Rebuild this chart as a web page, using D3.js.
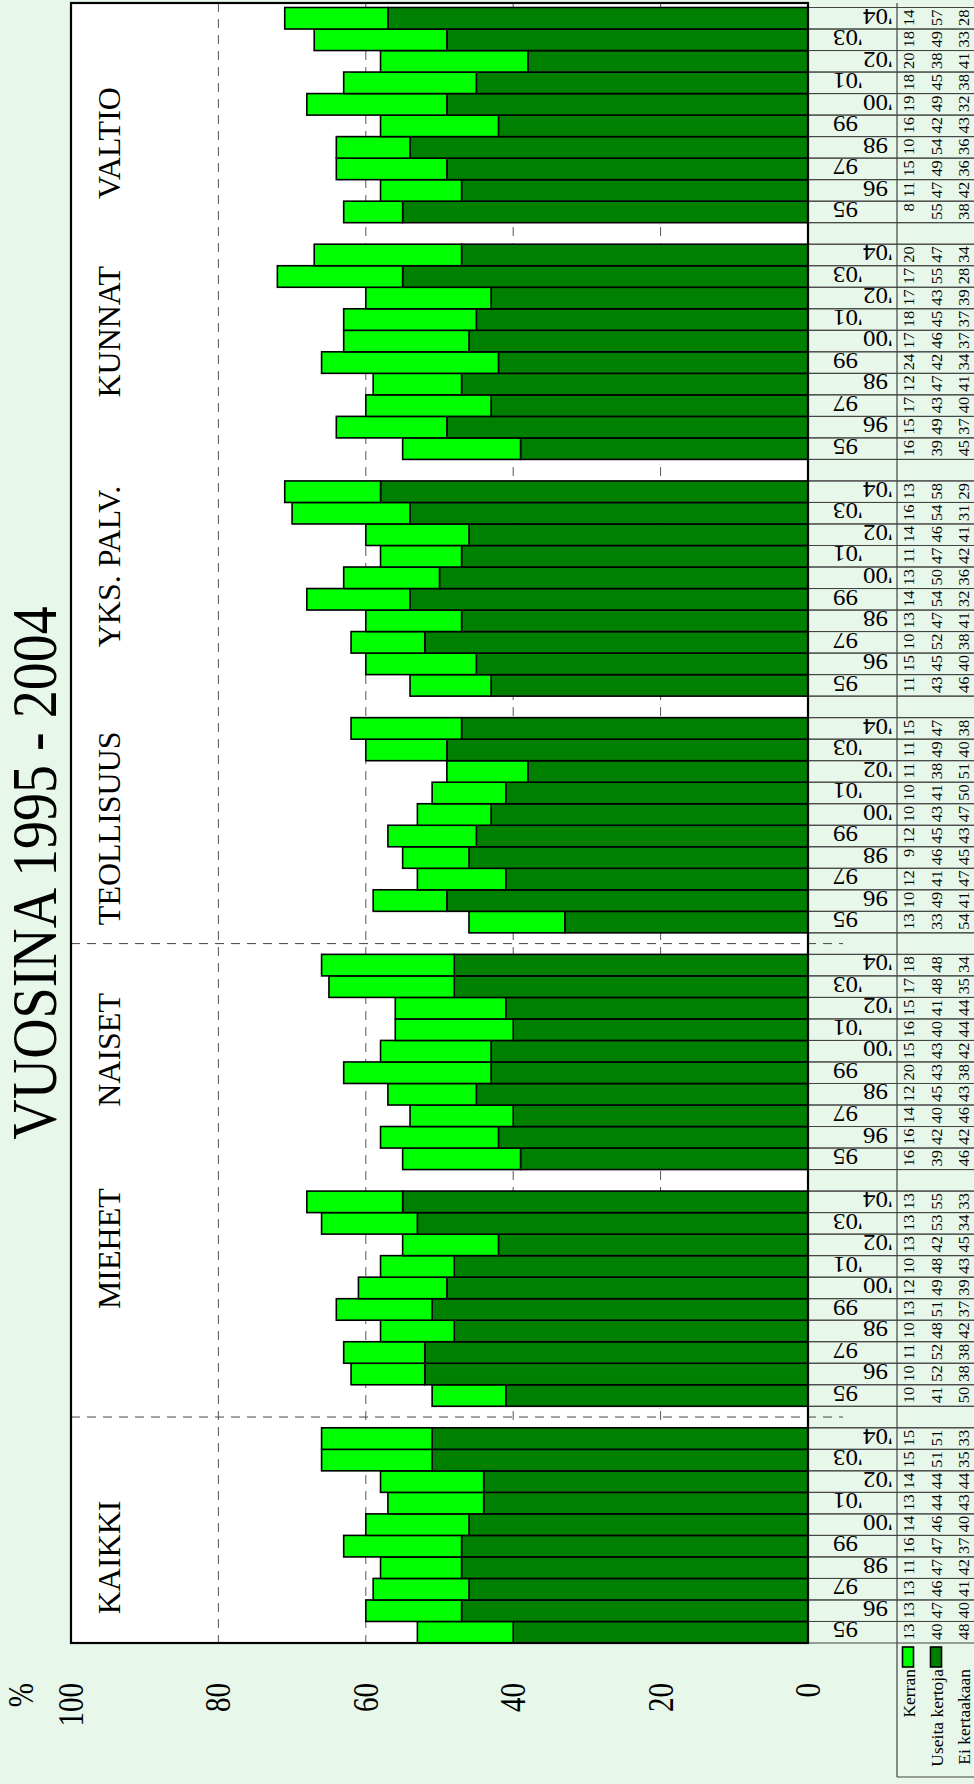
<!DOCTYPE html>
<html><head><meta charset="utf-8">
<script src="https://cdn.jsdelivr.net/npm/d3@7"></script>
<style>html,body{margin:0;padding:0;background:#e7f7ea;} svg{display:block}</style>
</head><body><svg id="c" width="974" height="1784"></svg>
<script>
const groups = ["KAIKKI","MIEHET","NAISET","TEOLLISUUS","YKS. PALV.","KUNNAT","VALTIO"];
const years = ["95","96","97","98","99","'00","'01","'02","'03","'04"];
const seriesNames = ["Kerran","Useita kertoja","Ei kertaakaan"];
const valueTicks = [0,20,40,60,80,100];
const titleText = "VUOSINA 1995 - 2004";
// Kerran (once)
const kerran = [
  [13,13,13,11,16,14,13,14,15,15],
  [10,10,11,10,13,12,10,13,13,13],
  [16,16,14,12,20,15,16,15,17,18],
  [13,10,12,9,12,10,10,11,11,15],
  [11,15,10,13,14,13,11,14,16,13],
  [16,15,17,12,24,17,18,17,17,20],
  [8,11,15,10,16,19,18,20,18,14]
];
// Useita kertoja (several times)
const useita = [
  [40,47,46,47,47,46,44,44,51,51],
  [41,52,52,48,51,49,48,42,53,55],
  [39,42,40,45,43,43,40,41,48,48],
  [33,49,41,46,45,43,41,38,49,47],
  [43,45,52,47,54,50,47,46,54,58],
  [39,49,43,47,42,46,45,43,55,47],
  [55,47,49,54,42,49,45,38,49,57]
];
// Ei kertaakaan (never)
const ei = [
  [48,40,41,42,37,40,43,44,35,33],
  [50,38,38,42,37,39,43,45,34,33],
  [46,42,46,43,38,42,44,44,35,34],
  [54,41,47,45,43,47,50,51,40,38],
  [46,40,38,41,32,36,42,41,31,29],
  [45,37,40,41,34,37,37,39,28,34],
  [38,42,36,36,43,32,38,41,33,28]
];
const separatorAfter = [0,2]; // dashed separators after these groups
// layout: label shift from group centre (px)
const labelShift = [22,-50,-12,3,-22,-20,28];

const FONT = "'Liberation Serif','Times New Roman',serif";
const LIGHT = "#00ff00", DARK = "#008000";
const svg = d3.select("#c");

const PL = 71, PR = 808, PT = 3, PB = 1643;
const xV = d3.scaleLinear().domain([0,100]).range([PR, PL]);

const slots = [];
groups.forEach((g,gi)=>{ if(gi>0) slots.push("gap"+gi); years.forEach((y,yi)=>slots.push(gi+"|"+yi)); });
const yS = d3.scaleBand().domain(slots).range([PB, 7.5]);
const bw = yS.bandwidth();

function rt(sel, x, y, str, size, sy, anchor, rot){
  return sel.append("text")
    .attr("transform", `translate(${x},${y}) rotate(${rot===undefined?-90:rot}) scale(1,${sy})`)
    .attr("text-anchor", anchor).attr("font-family", FONT)
    .attr("font-size", size).attr("fill","#000").text(str);
}

// plot background
svg.append("rect").attr("x",PL).attr("y",PT).attr("width",PR-PL).attr("height",PB-PT).attr("fill","#fff");

// gridlines
svg.append("g").selectAll("line").data(valueTicks.filter(v=>v>0&&v<100)).join("line")
  .attr("x1",d=>xV(d)).attr("x2",d=>xV(d)).attr("y1",PT).attr("y2",PB)
  .attr("stroke","#555").attr("stroke-width",1).attr("stroke-dasharray","9,7");

// table row lines
const tl = svg.append("g");
slots.forEach(k=>{
  [yS(k), yS(k)+bw].forEach(y=>{
    tl.append("line").attr("x1",PR).attr("x2",974).attr("y1",y).attr("y2",y)
      .attr("stroke","#444").attr("stroke-width",1);
  });
});
tl.append("line").attr("x1",897).attr("x2",897).attr("y1",PT).attr("y2",1777).attr("stroke","#444").attr("stroke-width",1.2);
tl.append("line").attr("x1",897).attr("x2",974).attr("y1",1777).attr("y2",1777).attr("stroke","#444").attr("stroke-width",1.2);

// group separators
separatorAfter.forEach(gi=>{
  const y = yS("gap"+(gi+1)) + bw/2;
  svg.append("line").attr("x1",PL).attr("x2",843).attr("y1",y).attr("y2",y)
    .attr("stroke","#444").attr("stroke-width",1).attr("stroke-dasharray","9,7");
});

// bars
const bars = svg.append("g");
groups.forEach((g,gi)=>{
  years.forEach((yr,yi)=>{
    const key = gi+"|"+yi, y = yS(key);
    const u = useita[gi][yi], k = kerran[gi][yi];
    bars.append("rect").attr("x",xV(u)).attr("y",y).attr("width",xV(0)-xV(u)).attr("height",bw)
      .attr("fill",DARK).attr("stroke","#000").attr("stroke-width",1.6);
    bars.append("rect").attr("x",xV(u+k)).attr("y",y).attr("width",xV(u)-xV(u+k)).attr("height",bw)
      .attr("fill",LIGHT).attr("stroke","#000").attr("stroke-width",1.6);
  });
});

// frame
svg.append("rect").attr("x",PL).attr("y",PT).attr("width",PR-PL).attr("height",PB-PT)
  .attr("fill","none").attr("stroke","#000").attr("stroke-width",2.2);

// group labels
groups.forEach((g,gi)=>{
  const ys = years.map((y,yi)=>yS(gi+"|"+yi));
  const c = (d3.min(ys)+d3.max(ys)+bw)/2 + labelShift[gi];
  rt(svg, 120, c, g, 32, 1.0, "middle");
});

// year labels (upside down)
groups.forEach((g,gi)=>{
  years.forEach((yr,yi)=>{
    const y = yS(gi+"|"+yi);
    rt(svg, yi%2===0?833:863, y+1, yr, 25, 0.92, "end", 180);
  });
});

// table numbers
const colX = [913.5, 941.5, 969];
const seriesData = [kerran, useita, ei];
seriesData.forEach((sd,si)=>{
  groups.forEach((g,gi)=>{
    years.forEach((yr,yi)=>{
      const y = yS(gi+"|"+yi);
      rt(svg, colX[si], y+2, sd[gi][yi], 16.5, 0.84, "end");
    });
  });
});

// legend
const legY = 1669;
[LIGHT, DARK].forEach((c,i)=>{
  svg.append("rect").attr("x",colX[i]-11).attr("y",1647).attr("width",11).attr("height",20)
    .attr("fill",c).attr("stroke","#000").attr("stroke-width",1.6);
});
seriesNames.forEach((s,i)=>{
  rt(svg, colX[i]+1, legY, s, 17.5, 1.0, "end");
});

// value axis labels
valueTicks.forEach(v=>{
  rt(svg, xV(v)+12, 1683, v, 29, 1.2, "end");
});
rt(svg, 33, 1683, "%", 29, 1.2, "end");

// title
rt(svg, 56, 873, titleText, 56, 1.12, "middle");
</script>
</body></html>
